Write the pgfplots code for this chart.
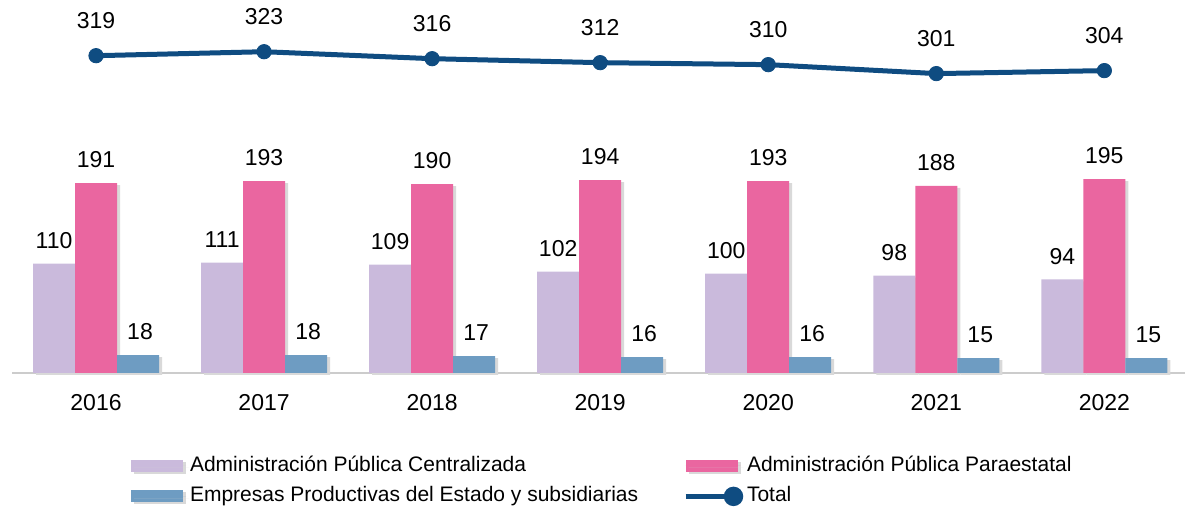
\documentclass[border=0pt]{standalone}
\usepackage{pgfplots}
\pgfplotsset{compat=1.18}
\usepackage{fontspec}
\setmainfont{Liberation Sans}
\definecolor{lav}{RGB}{202,186,220}
\definecolor{pinkc}{RGB}{234,102,160}
\definecolor{steel}{RGB}{110,156,194}
\definecolor{navy}{RGB}{15,76,129}
\begin{document}
\begin{tikzpicture}[x=1pt,y=1pt]
\begin{axis}[
  at={(6pt,67.5pt)}, anchor=south west,
  scale only axis, width=586.5pt, height=186.5pt,
  xmin=-0.5, xmax=6.48, ymin=0, ymax=375,
  axis y line=none, axis x line=bottom,
  x axis line style={-, draw=black!20, line width=1pt},
  xtick={0,...,6}, xticklabels={2016,2017,2018,2019,2020,2021,2022},
  major tick length=0pt,
  /pgf/number format/assume math mode=true,
  xticklabel style={font=\fontsize{11.5}{13}\selectfont, inner sep=0pt, anchor=north, yshift=-10.5pt},
  clip=false,
  nodes near coords style={font=\fontsize{11.5}{13}\selectfont, inner sep=0pt, anchor=south, text=black},
  legend columns=2,
  legend style={at={(0.096,-0.211)}, anchor=north west, draw=none, fill=none,
    font=\fontsize{10.5}{12}\selectfont,
    nodes={inner xsep=1.9pt, inner ysep=0pt, text height=7.5pt, text depth=2pt},
    row sep=5.8pt,
    /tikz/every even column/.append style={column sep=20.5pt}},
  legend cell align=left,
  bar shadow/.style={preaction={fill=black!15, transform canvas={xshift=1.5pt, yshift=-1pt}}},
]
\addplot[ybar, bar width=21pt, bar shift=-21pt, fill=lav, draw=none, bar shadow,
  nodes near coords, nodes near coords style={xshift=-21pt, yshift=7.4pt},
  legend image code/.code={\fill[lav] (0pt,-3pt) rectangle (26pt,3pt); \path (0pt,0pt) -- (27.6pt,0pt);}]
  coordinates {(0,110) (1,111) (2,109) (3,102) (4,100) (5,98) (6,94)};
\addlegendentry{Administración Pública Centralizada}
\addplot[ybar, bar width=21pt, bar shift=0pt, fill=pinkc, draw=none, bar shadow,
  nodes near coords, nodes near coords style={yshift=7.4pt},
  legend image code/.code={\fill[pinkc] (0pt,-3pt) rectangle (26pt,3pt); \path (0pt,0pt) -- (27.6pt,0pt);}]
  coordinates {(0,191) (1,193) (2,190) (3,194) (4,193) (5,188) (6,195)};
\addlegendentry{Administración Pública Paraestatal}
\addplot[ybar, bar width=21pt, bar shift=21pt, fill=steel, draw=none, bar shadow,
  nodes near coords, nodes near coords style={xshift=22pt, yshift=7.4pt},
  legend image code/.code={\fill[steel] (0pt,-3pt) rectangle (26pt,3pt); \path (0pt,0pt) -- (27.6pt,0pt);}]
  coordinates {(0,18) (1,18) (2,17) (3,16) (4,16) (5,15) (6,15)};
\addlegendentry{Empresas Productivas del Estado y subsidiarias}
\addplot[navy, line width=2.5pt, mark=*, mark size=3.6pt,
  mark options={solid, fill=navy, draw=navy, line width=0.4pt},
  nodes near coords, nodes near coords style={yshift=13.4pt},
  legend image code/.code={\draw[navy, line width=2.5pt] (0pt,0pt) -- (26pt,0pt);
     \fill[navy] (24pt,0pt) circle (3.6pt);}]
  coordinates {(0,319) (1,323) (2,316) (3,312) (4,310) (5,301) (6,304)};
\addlegendentry{Total}
\end{axis}
\pgfresetboundingbox
\useasboundingbox (0,0) rectangle (592.5pt,254pt);
\end{tikzpicture}
\end{document}
